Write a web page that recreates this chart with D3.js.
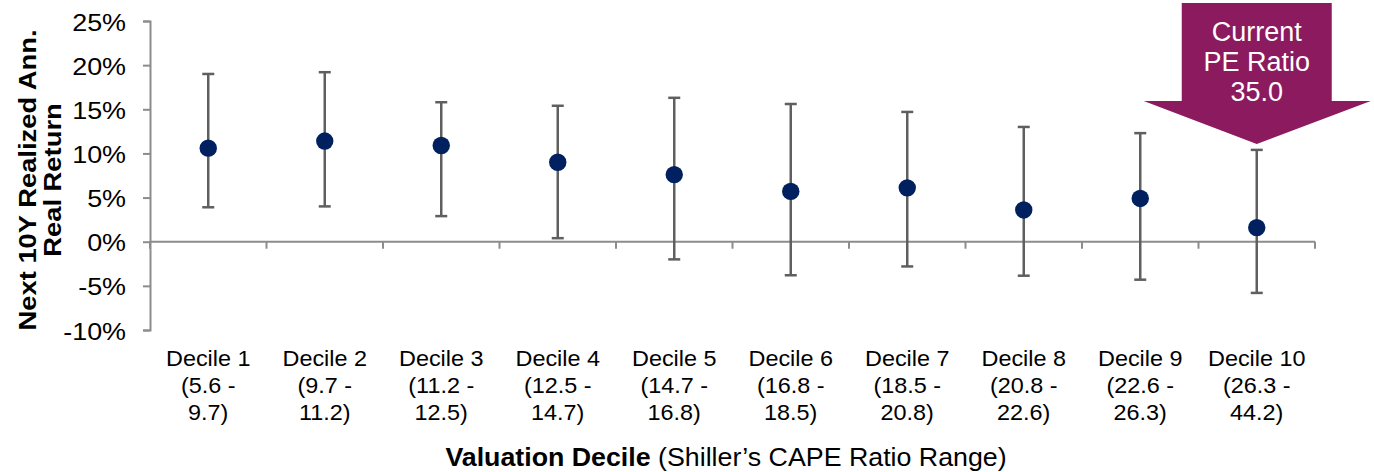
<!DOCTYPE html>
<html><head><meta charset="utf-8">
<script src="https://cdn.jsdelivr.net/npm/d3@7"></script>
<style>body{margin:0;background:#fff;} svg{display:block;font-family:Arial,"Liberation Sans",sans-serif;}</style>
</head><body>
<svg id="c" width="1374" height="472"></svg>
<script>
const categories = ["Decile 1","Decile 2","Decile 3","Decile 4","Decile 5","Decile 6","Decile 7","Decile 8","Decile 9","Decile 10"];
const rangeLine1 = ["(5.6 -","(9.7 -","(11.2 -","(12.5 -","(14.7 -","(16.8 -","(18.5 -","(20.8 -","(22.6 -","(26.3 -"];
const rangeLine2 = ["9.7)","11.2)","12.5)","14.7)","16.8)","18.5)","20.8)","22.6)","26.3)","44.2)"];
const medians = [10.6, 11.4, 10.9, 9.0, 7.6, 5.7, 6.1, 3.6, 4.9, 1.6];
const highs   = [19.0, 19.2, 15.8, 15.4, 16.3, 15.6, 14.7, 13.0, 12.3, 10.4];
const lows    = [3.9, 4.0, 2.9, 0.4, -2.0, -3.8, -2.8, -3.85, -4.3, -5.8];
const yTicks  = [-10, -5, 0, 5, 10, 15, 20, 25];
const callout = ["Current", "PE Ratio", "35.0"];
const calloutIndex = 9;

const svg = d3.select("#c");
const x = d3.scaleBand().domain(categories).range([150, 1315]).padding(0);
const y = d3.scaleLinear().domain([-10, 25]).range([330, 21]);
const axisColor = "#8c8c8c";

// Y axis
const yAxis = svg.append("g").attr("transform", "translate(150,0)")
  .call(d3.axisLeft(y).tickValues(yTicks).tickSize(7).tickPadding(17).tickFormat(d => d + "%"));
yAxis.select(".domain").attr("stroke", axisColor).attr("stroke-width", 2);
yAxis.selectAll(".tick line").attr("stroke", axisColor).attr("stroke-width", 2);
yAxis.selectAll(".tick text").attr("font-size", 23).attr("fill", "#000")
  .attr("font-family", "Arial, 'Liberation Sans', sans-serif")
  .attr("dy", 9)
  .attr("transform", "translate(-24,0) scale(1.17,1) translate(24,0)");

// X axis at zero
const xAxisG = svg.append("g").attr("transform", `translate(0,${y(0)})`);
xAxisG.append("line").attr("x1", 150).attr("x2", 1315).attr("stroke", axisColor).attr("stroke-width", 2);
const bounds = categories.map(c => x(c)).concat([x.range()[1]]);
xAxisG.selectAll("line.tk").data(bounds).enter().append("line").attr("class","tk")
  .attr("x1", d => d).attr("x2", d => d).attr("y1", 0).attr("y2", 7)
  .attr("stroke", axisColor).attr("stroke-width", 2);

// Category labels
const cx = c => x(c) + x.bandwidth() / 2;
const lab = svg.append("g").attr("font-size", 22.5).attr("fill", "#000").attr("text-anchor", "middle");
categories.forEach((c, i) => {
  const t = lab.append("text")
    .attr("transform", `translate(${cx(c)},0) scale(1.04,1)`);
  t.append("tspan").attr("x", 0).attr("y", 366).text(c);
  t.append("tspan").attr("x", 0).attr("y", 393).text(rangeLine1[i]);
  t.append("tspan").attr("x", 0).attr("y", 420).text(rangeLine2[i]);
});

// Error bars
const eb = svg.append("g").attr("stroke", "#5f5f5f").attr("stroke-width", 2.5);
categories.forEach((c, i) => {
  const xc = cx(c);
  eb.append("line").attr("x1", xc).attr("x2", xc).attr("y1", y(highs[i])).attr("y2", y(lows[i]));
  eb.append("line").attr("x1", xc - 6).attr("x2", xc + 6).attr("y1", y(highs[i])).attr("y2", y(highs[i]));
  eb.append("line").attr("x1", xc - 6).attr("x2", xc + 6).attr("y1", y(lows[i])).attr("y2", y(lows[i]));
});

// Dots
svg.append("g").selectAll("circle").data(medians).enter().append("circle")
  .attr("cx", (d, i) => cx(categories[i])).attr("cy", d => y(d)).attr("r", 8.7).attr("fill", "#002060");

// Y title
const yt = svg.append("text").attr("transform", "translate(0,180) rotate(-90) scale(1.19,1)")
  .attr("font-size", 23).attr("font-weight", "bold").attr("text-anchor", "middle").attr("fill", "#000");
yt.append("tspan").attr("x", 0).attr("y", 36).text("Next 10Y Realized Ann.");
yt.append("tspan").attr("x", 0).attr("y", 61).text("Real Return");

// X title
const xt = svg.append("text").attr("transform", "translate(726,0) scale(1.03,1)")
  .attr("x", 0).attr("y", 466).attr("font-size", 26).attr("text-anchor", "middle").attr("fill", "#000");
xt.append("tspan").attr("font-weight", "bold").text("Valuation Decile");
xt.append("tspan").text(" (Shiller\u2019s CAPE Ratio Range)");

// Callout arrow
const ax = cx(categories[calloutIndex]);
const tipY = y(highs[calloutIndex]) - 6;
const arrow = d3.path();
arrow.moveTo(ax - 75, 3); arrow.lineTo(ax + 75, 3); arrow.lineTo(ax + 75, 101);
arrow.lineTo(ax + 114, 101); arrow.lineTo(ax, tipY); arrow.lineTo(ax - 113, 101);
arrow.lineTo(ax - 75, 101); arrow.closePath();
svg.append("path").attr("d", arrow.toString()).attr("fill", "#8b1b5e");
const ct = svg.append("text").attr("font-size", 27).attr("fill", "#fff").attr("text-anchor", "middle");
callout.forEach((s, i) => ct.append("tspan").attr("x", ax).attr("y", 41 + i * 30).text(s));
</script>
</body></html>
